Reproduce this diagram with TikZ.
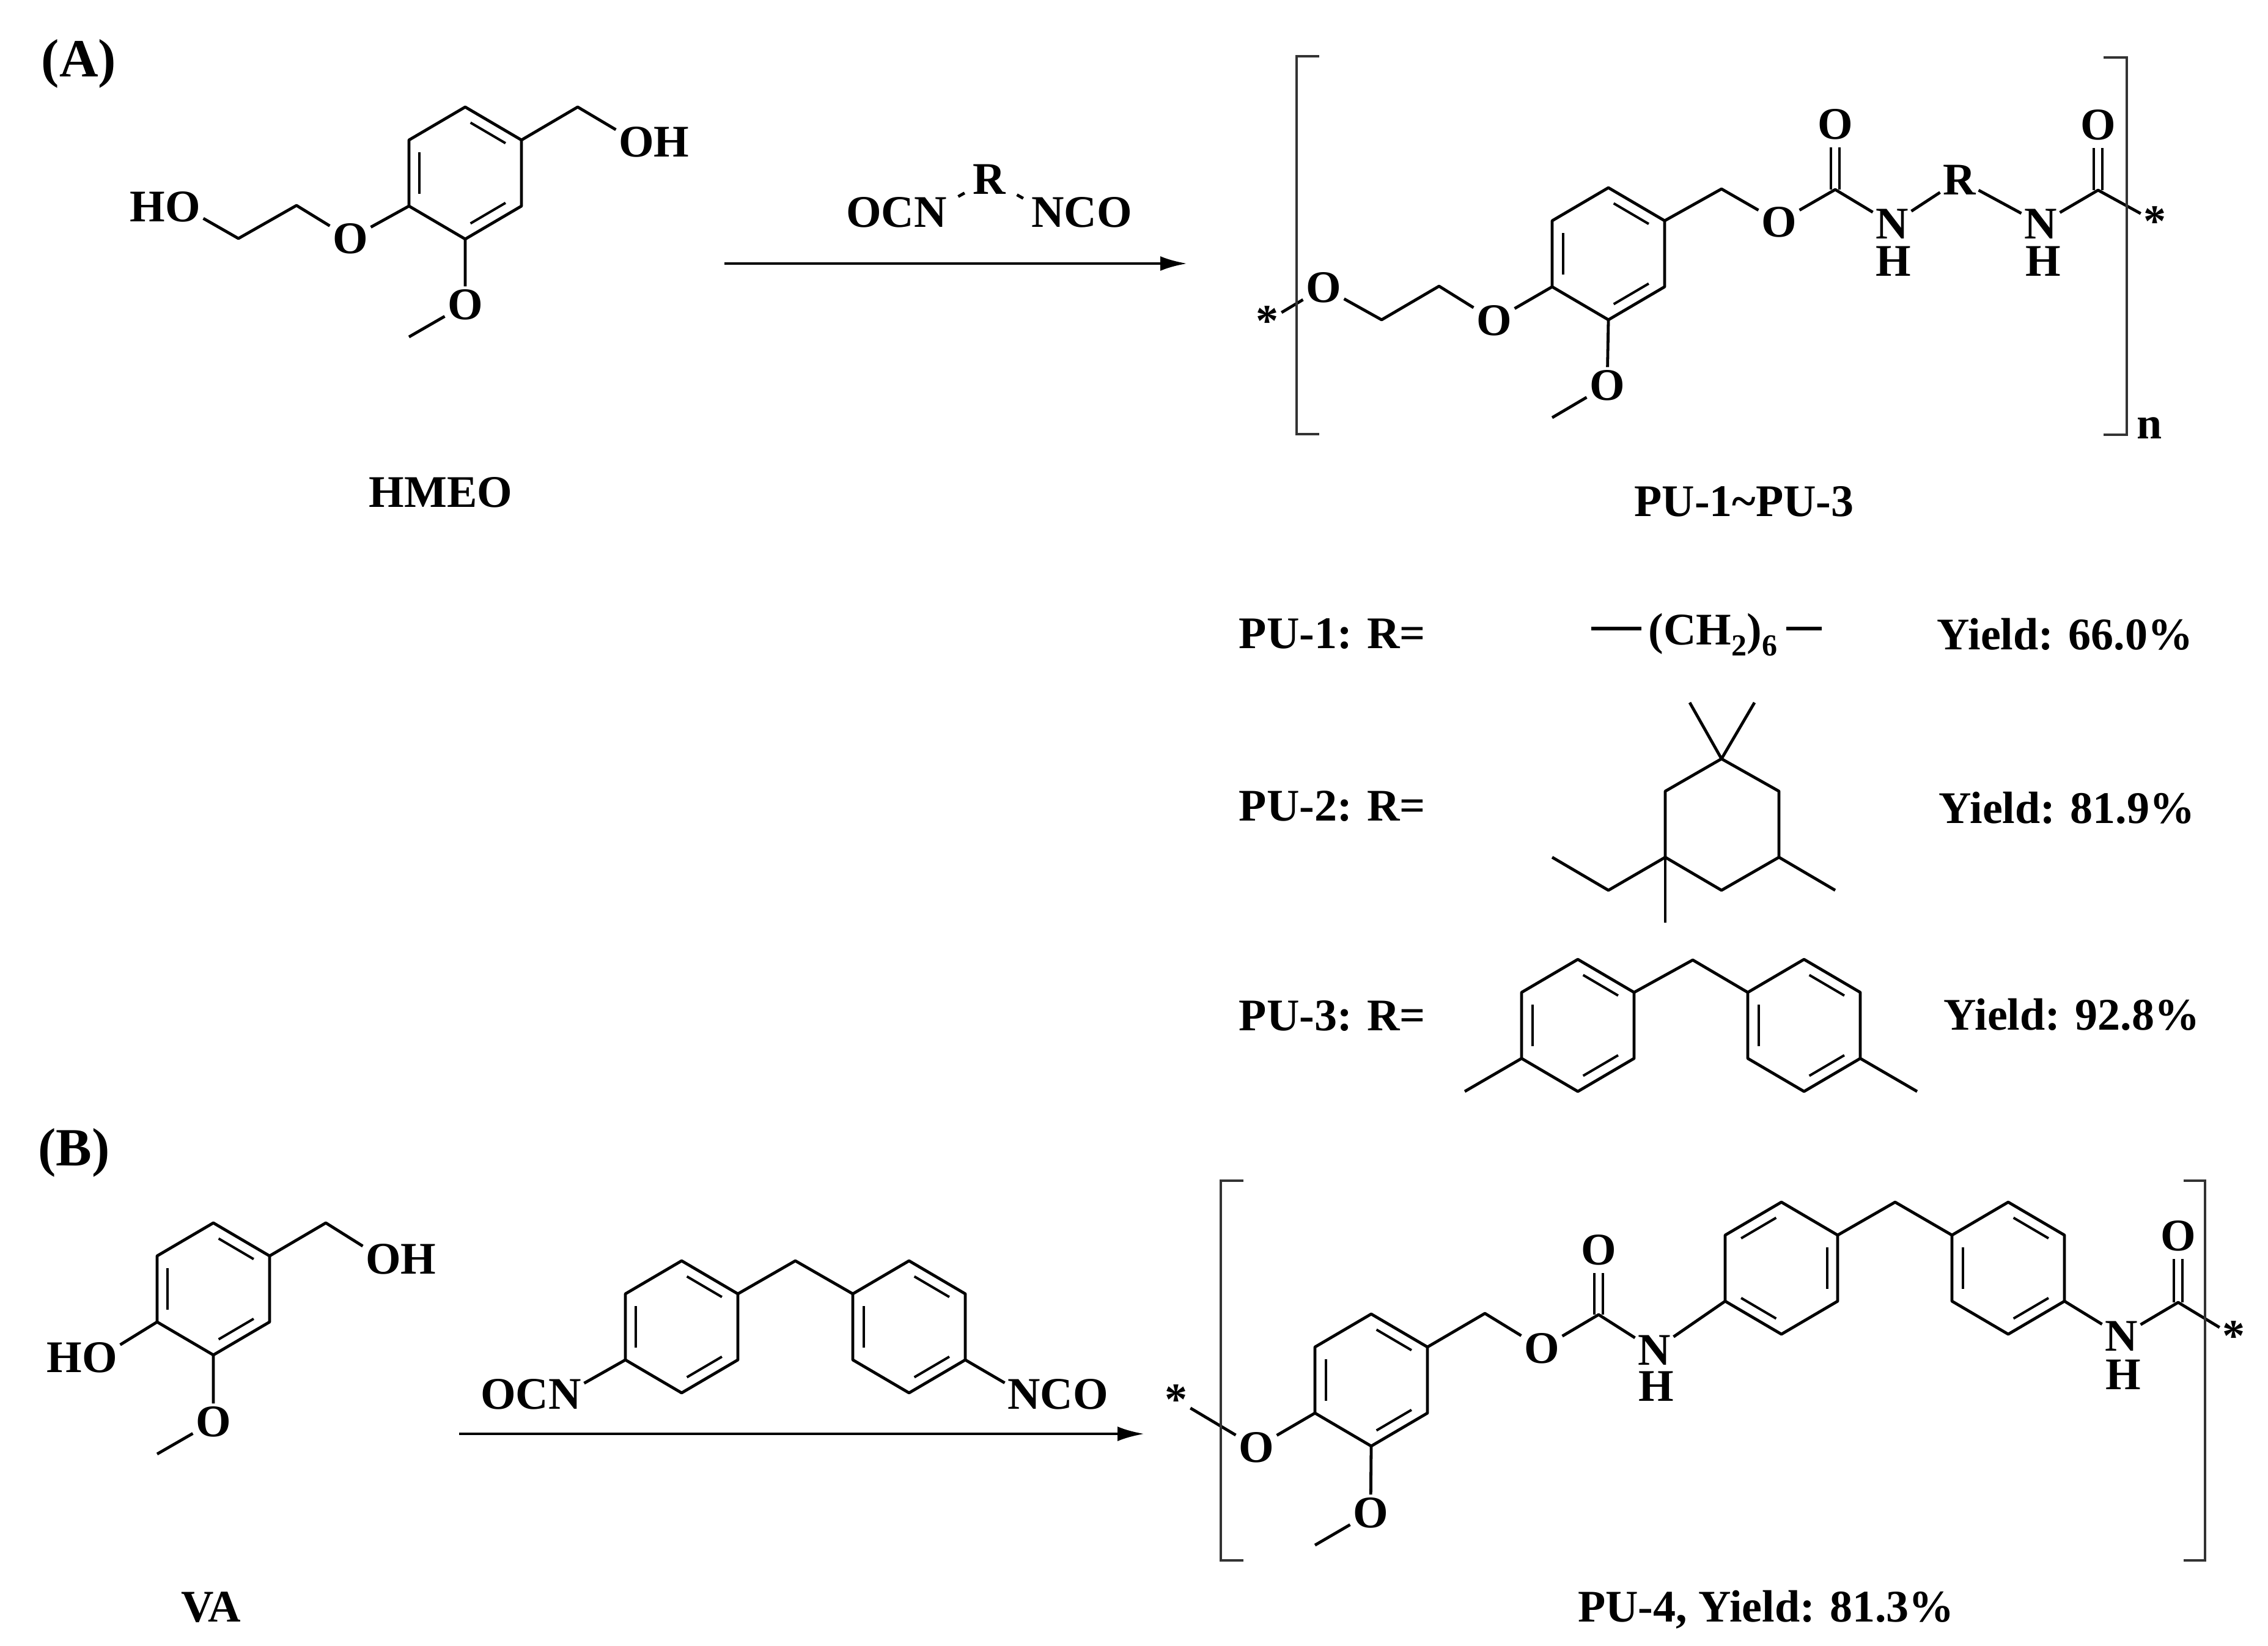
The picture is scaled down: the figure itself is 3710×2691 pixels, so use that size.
\documentclass[tikz,border=0pt]{standalone}
\usepackage{fontspec}
\setmainfont{Liberation Serif}
\usetikzlibrary{calc}
\usetikzlibrary{arrows.meta}

\newcommand{\kekA}{t/ur,ul/ll,lr/b}
\newcommand{\kekB}{t/ul,ur/lr,b/ll}
\newcommand{\subdown}[1]{\raisebox{-4.6pt}{\fontsize{12.5pt}{13pt}\selectfont #1}}
\newcommand{\benzring}[4]{
  \coordinate (#1c) at (#2,#3);
  \coordinate (#1t) at ($(#1c)+(0,-108)$);
  \coordinate (#1ur) at ($(#1c)+(92,-54)$);
  \coordinate (#1lr) at ($(#1c)+(92,54)$);
  \coordinate (#1b) at ($(#1c)+(0,108)$);
  \coordinate (#1ll) at ($(#1c)+(-92,54)$);
  \coordinate (#1ul) at ($(#1c)+(-92,-54)$);
  \draw[bond] (#1t) -- (#1ur) -- (#1lr) -- (#1b) -- (#1ll) -- (#1ul) -- cycle;
  \foreach \a/\b in #4 {
    \draw[innerbond] ($(#1c)!.81!(#1\a)$) -- ($(#1c)!.81!(#1\b)$);
  }
}

\begin{document}
\begin{tikzpicture}[x=.25pt,y=-.25pt,
every node/.style = {font=\fontsize{18.5pt}{20pt}\selectfont\bfseries, text=black},
atom/.style = {inner sep=1pt},
caption/.style = {inner sep=0pt, anchor=base},
rowtext/.style = {inner sep=0pt, anchor=base west},
panel/.style = {inner sep=0pt, anchor=base, font=\fontsize{22pt}{24pt}\selectfont\bfseries},
bond/.style = {line width=1.2pt, line join=round, draw=black},
innerbond/.style = {line width=1pt, draw=black, shorten <=2.5pt, shorten >=2.5pt},
carbonyl/.style = {line width=1pt, draw=black, double, double distance=2.6pt, shorten >=2pt},
tick/.style = {bond, shorten <=4pt, shorten >=2.5pt},
bracket/.style = {line width=1.2pt, draw=black!80},
reaction/.style = {-{Latex[length=11pt,width=6pt]}, line width=1.2pt, draw=black}
]
\useasboundingbox (0,0) rectangle (3710,2691);

\node[panel] (panelA) at (129,125) {(A)};
\node[panel] (panelB) at (121,1906) {(B)};

% HMEO
\benzring{ha}{761}{283}{\kekA}
\coordinate (hach) at (945,175);
\coordinate (hacha) at (390,390);
\coordinate (hachb) at (485,336);
\coordinate (hame) at (669,551);
\node[atom] (haoh) at (1041,232) {O\rlap{H}};
\node[atom] (haho) at (299,338) {\llap{H}O};
\node[atom] (haoa) at (573,390) {O};
\node[atom] (haob) at (761,498) {O};
\draw[bond] (haur) -- (hach) -- (haoh);
\draw[bond] (haho) -- (hacha) -- (hachb) -- (haoa) -- (hall);
\draw[bond] (hab) -- (haob) -- (hame);
\node[caption] (hmeo) at (721,829) {HMEO};

% diisocyanate
\node[atom] (rr) at (1618,293) {R};
\node[atom] (rl) at (1522,347) {\llap{OC}N};
\node[atom] (rn) at (1714,347) {N\rlap{CO}};
\draw[tick] (rl) -- (rr);
\draw[tick] (rr) -- (rn);
\coordinate (arrowa) at (1185,431);
\coordinate (arrowb) at (1942,431);
\draw[reaction] (arrowa) -- (arrowb);

% PU-1~PU-3
\benzring{pa}{2631}{415}{\kekA}
\coordinate (pach) at (2260,523);
\coordinate (pachb) at (2354,468);
\coordinate (pabz) at (2816,309);
\coordinate (pacf) at (3002,310);
\coordinate (pacg) at (3432,311);
\coordinate (pame) at (2539,683);
\node[atom] (pasl) at (2073,525) {*};
\node[atom] (paoa) at (2165,470) {O};
\node[atom] (paob) at (2444,524) {O};
\node[atom] (paoc) at (2629,630) {O};
\node[atom] (paod) at (2910,363) {O};
\node[atom] (paoe) at (3002,203) {O};
\node[atom] (pana) at (3095,366) {N};
\node[atom] (paha) at (3097,427) {H};
\node[atom] (par) at (3205,294) {R};
\node[atom] (panb) at (3338,366) {N};
\node[atom] (pahb) at (3342,427) {H};
\node[atom] (paof) at (3432,204) {O};
\node[atom] (pasr) at (3525,362) {*};
\node[atom] (pann) at (3516,700) {n};
\draw[carbonyl] (pacf) -- (paoe);
\draw[carbonyl] (pacg) -- (paof);
\draw[bond] (pasl) -- (paoa) -- (pach) -- (pachb) -- (paob) -- (pall);
\draw[bond] (pab) -- (paoc) -- (pame);
\draw[bond] (paur) -- (pabz) -- (paod) -- (pacf) -- (pana) -- (par) -- (panb) -- (pacg) -- (pasr);
\draw[bracket] (2158,92) -- (2121,92) -- (2121,710) -- (2158,710);
\draw[bracket] (3441,94) -- (3479,94) -- (3479,711) -- (3441,711);
\node[caption] (puall) at (2853,844) {PU-1\textasciitilde PU-3};

% R groups
\node[rowtext] (puone) at (2026,1060) {PU-1: R=};
\node[rowtext] (putwo) at (2026,1342) {PU-2: R=};
\node[rowtext] (puthree) at (2026,1685) {PU-3: R=};
\node[rowtext] (yone) at (3168,1062) {Yield: 66.0\%};
\node[rowtext] (ytwo) at (3171,1346) {Yield: 81.9\%};
\node[rowtext] (ythree) at (3179,1684) {Yield: 92.8\%};

\node[rowtext] (chain) at (2696,1054) {(CH\subdown{2})\subdown{6}};
\coordinate (chaina) at (2603,1028);
\coordinate (chainb) at (2980,1028);
\draw[bond,line width=1.5pt] (chaina) -- ($(chain.base west)+(-11,-26)$);
\draw[bond,line width=1.5pt] (chainb) -- ($(chain.base east)+(14,-26)$);

\coordinate (ipt) at (2816,1241);
\coordinate (ipma) at (2764,1149);
\coordinate (ipmb) at (2870,1149);
\coordinate (ipul) at (2724,1294);
\coordinate (ipur) at (2910,1294);
\coordinate (iplr) at (2910,1402);
\coordinate (ipb) at (2816,1456);
\coordinate (ipll) at (2724,1402);
\coordinate (ipme) at (3002,1456);
\coordinate (ipdn) at (2724,1509);
\coordinate (ipea) at (2631,1456);
\coordinate (ipeb) at (2539,1402);
\draw[bond] (ipt) -- (ipur) -- (iplr) -- (ipb) -- (ipll) -- (ipul) -- cycle;
\draw[bond] (ipma) -- (ipt) -- (ipmb);
\draw[bond] (iplr) -- (ipme);
\draw[bond] (ipll) -- (ipdn);
\draw[bond] (ipll) -- (ipea) -- (ipeb);

\benzring{ma}{2581}{1677}{\kekA}
\benzring{mb}{2951}{1677}{\kekA}
\coordinate (mdch) at (2769,1570);
\coordinate (mdl) at (2396,1785);
\coordinate (mdr) at (3136,1785);
\draw[bond] (maur) -- (mdch) -- (mbul);
\draw[bond] (mall) -- (mdl);
\draw[bond] (mblr) -- (mdr);

% VA
\benzring{va}{349}{2108}{\kekA}
\coordinate (vach) at (533,2000);
\coordinate (vame) at (257,2378);
\node[atom] (vaoh) at (627,2059) {O\rlap{H}};
\node[atom] (vaho) at (163,2220) {\llap{H}O};
\node[atom] (vaom) at (349,2325) {O};
\draw[bond] (vaur) -- (vach) -- (vaoh);
\draw[bond] (vall) -- (vaho);
\draw[bond] (vab) -- (vaom) -- (vame);
\node[caption] (vaname) at (345,2652) {VA};

% MDI
\benzring{da}{1115}{2170}{\kekA}
\benzring{db}{1487}{2170}{\kekA}
\coordinate (dch) at (1301,2062);
\node[atom] (dl) at (924,2280) {\llap{OC}N};
\node[atom] (dr) at (1675,2280) {N\rlap{CO}};
\draw[bond] (daur) -- (dch) -- (dbul);
\draw[bond] (dall) -- (dl);
\draw[bond] (dblr) -- (dr);
\coordinate (arrowc) at (751,2345);
\coordinate (arrowd) at (1872,2345);
\draw[reaction] (arrowc) -- (arrowd);

% PU-4
\benzring{qa}{2243}{2257}{\kekA}
\benzring{qb}{2914}{2074}{\kekB}
\benzring{qc}{3285}{2074}{\kekA}
\coordinate (qbz) at (2429,2148);
\coordinate (qcf) at (2615,2150);
\coordinate (qch) at (3100,1966);
\coordinate (qcg) at (3563,2130);
\coordinate (qme) at (2151,2527);
\node[atom] (qsl) at (1924,2289) {*};
\node[atom] (qoa) at (2055,2367) {O};
\node[atom] (qob) at (2242,2474) {O};
\node[atom] (qoc) at (2522,2205) {O};
\node[atom] (qod) at (2615,2044) {O};
\node[atom] (qna) at (2706,2208) {N};
\node[atom] (qha) at (2709,2267) {H};
\node[atom] (qnb) at (3470,2185) {N};
\node[atom] (qhb) at (3473,2248) {H};
\node[atom] (qoe) at (3563,2021) {O};
\node[atom] (qsr) at (3654,2185) {*};
\draw[carbonyl] (qcf) -- (qod);
\draw[carbonyl] (qcg) -- (qoe);
\draw[bond] (qsl) -- (qoa) -- (qall);
\draw[bond] (qab) -- (qob) -- (qme);
\draw[bond] (qaur) -- (qbz) -- (qoc) -- (qcf) -- (qna) -- (qbll);
\draw[bond] (qbur) -- (qch) -- (qcul);
\draw[bond] (qclr) -- (qnb) -- (qcg) -- (qsr);
\draw[bracket] (2034,1931) -- (1997,1931) -- (1997,2552) -- (2034,2552);
\draw[bracket] (3572,1931) -- (3607,1931) -- (3607,2552) -- (3572,2552);
\node[caption] (puf) at (2889,2652) {PU-4, Yield: 81.3\%};

\end{tikzpicture}
\end{document}
